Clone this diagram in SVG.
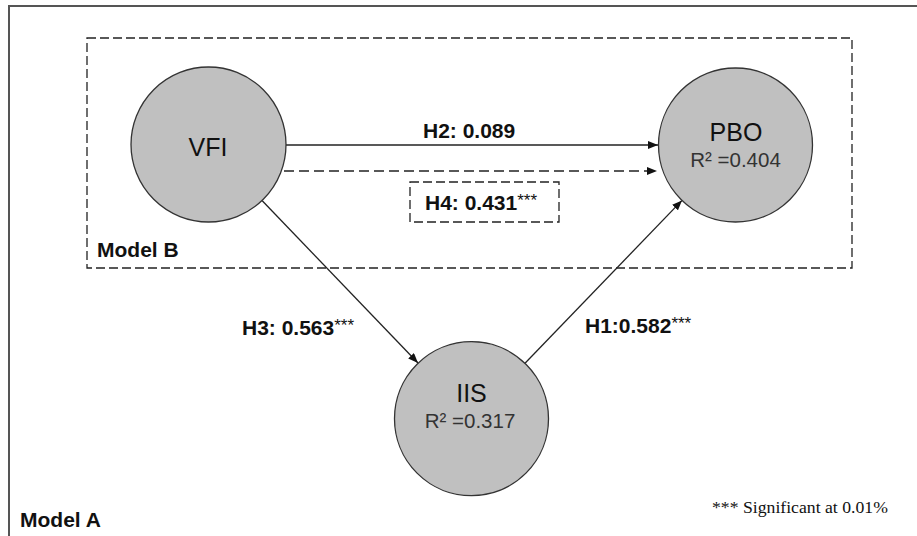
<svg xmlns="http://www.w3.org/2000/svg" width="917" height="536" viewBox="0 0 917 536">
  <style>
    .node { fill: #c0c0c0; stroke: #333; stroke-width: 1.3; }
    .title { font-family: "Liberation Sans", Arial, sans-serif; font-size: 25px; fill: #111; text-anchor: middle; }
    .r2 { font-family: "Liberation Sans", Arial, sans-serif; font-size: 20.5px; fill: #333; text-anchor: middle; }
    .lab { font-family: "Liberation Sans", Arial, sans-serif; font-size: 21px; font-weight: bold; fill: #111; }
    .sup { font-size: 17px; font-weight: normal; }
    .edge { stroke: #222; stroke-width: 1.3; fill: none; }
    .dash { stroke-dasharray: 10 5; }
    .box { fill: none; stroke: #222; stroke-width: 1.3; stroke-dasharray: 9 4; }
  </style>
  <defs>
    <marker id="arrow" viewBox="0 0 10 8" refX="10" refY="4" markerWidth="10" markerHeight="8" markerUnits="userSpaceOnUse" orient="auto">
      <path d="M0,0 L10,4 L0,8 Z" fill="#111"/>
    </marker>
  </defs>

  <rect width="917" height="536" fill="#fff"/>

  <!-- outer frame of Model A (open to the right and bottom) -->
  <rect x="9" y="6" width="1000" height="600" fill="none" stroke="#555" stroke-width="2"/>
  <text class="lab" x="20" y="527" font-size="20">Model A</text>

  <!-- dashed frame of Model B -->
  <rect class="box" x="87" y="38" width="765" height="230"/>
  <text class="lab" x="97" y="257" font-size="20">Model B</text>

  <!-- connectors -->
  <g id="connectors">
    <line class="edge" x1="286" y1="145" x2="658" y2="145" marker-end="url(#arrow)"/>
    <line class="edge dash" x1="284" y1="171" x2="657" y2="171" marker-end="url(#arrow)"/>
    <line class="edge" x1="262" y1="200.5" x2="418" y2="363" marker-end="url(#arrow)"/>
    <line class="edge" x1="525" y1="363.3" x2="682" y2="200.4" marker-end="url(#arrow)"/>
  </g>

  <!-- path labels -->
  <g id="labels">
    <text class="lab" x="423" y="138">H2: 0.089</text>
    <rect class="box" x="410" y="182" width="149" height="40"/>
    <text class="lab" x="425" y="210">H4: 0.431<tspan class="sup" dy="-4">***</tspan></text>
    <text class="lab" x="242" y="335">H3: 0.563<tspan class="sup" dy="-4">***</tspan></text>
    <text class="lab" x="585" y="333">H1:0.582<tspan class="sup" dy="-4">***</tspan></text>
  </g>

  <!-- nodes -->
  <g id="VFI">
    <circle class="node" cx="208.5" cy="144.5" r="77.5"/>
    <text class="title" x="208" y="156" font-size="26">VFI</text>
  </g>
  <g id="PBO">
    <circle class="node" cx="735.5" cy="145" r="77"/>
    <text class="title" x="736" y="141">PBO</text>
    <text class="r2" x="735.5" y="167">R² =0.404</text>
  </g>
  <g id="IIS">
    <circle class="node" cx="471.5" cy="418.7" r="77"/>
    <text class="title" x="471.5" y="402">IIS</text>
    <text class="r2" x="470" y="428">R² =0.317</text>
  </g>

  <text x="712" y="513" font-family="'Liberation Serif', 'Times New Roman', serif" font-size="17.7px" fill="#111">*** Significant at 0.01%</text>
</svg>
